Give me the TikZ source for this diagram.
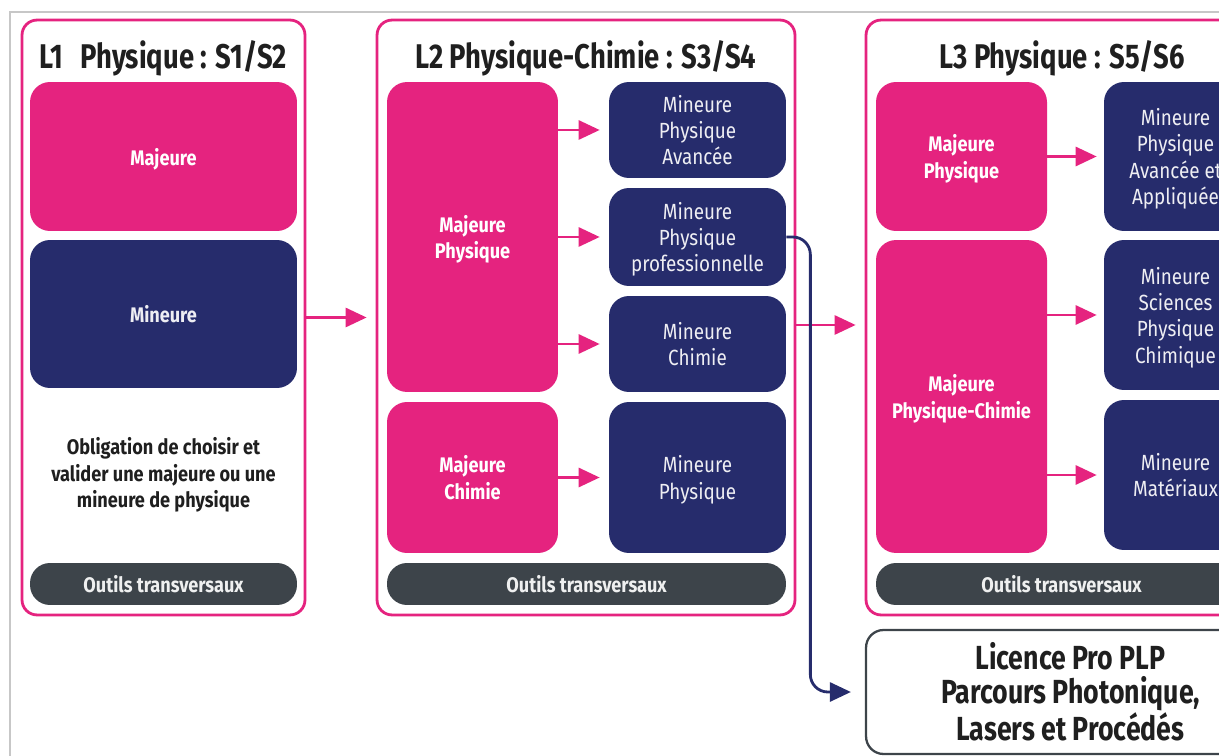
\documentclass[tikz,border=0pt]{standalone}
\usepackage{fontspec}
\setmainfont[FakeStretch=0.86]{Fira Sans}
\newfontfamily\titlefont[FakeStretch=0.8]{Fira Sans}
\usepackage{tikz}
\usetikzlibrary{positioning}
\usetikzlibrary{arrows.meta}
\definecolor{rose}{HTML}{E5237F}
\definecolor{marine}{HTML}{262C6C}
\definecolor{ardoise}{HTML}{3D444A}
\tikzset{
    bloc/.style = {rectangle, rounded corners=0.3cm, draw=rose, line width=1.6pt, fill=white},
    majeure/.style = {rectangle, rounded corners=0.4cm, fill=rose, text=white, align=center, text depth=-1pt, font=\fontsize{12}{15}\selectfont\bfseries},
    mineure/.style = {rectangle, rounded corners=0.4cm, fill=marine, text=white!92!marine, align=center, text depth=-1pt, font=\fontsize{12.5}{15}\selectfont},
    outils/.style = {rectangle, rounded corners=0.4cm, fill=ardoise, text=white!92!ardoise, text depth=0pt, font=\fontsize{12}{15}\selectfont\bfseries},
    titre/.style = {font=\titlefont\fontsize{19.5}{22}\selectfont\bfseries, text=black!88, text depth=0pt},
    taille/.style 2 args = {minimum width=#1cm, minimum height=#2cm, inner sep=0pt},
    edgep/.style = {-{Triangle[length=0.42cm,width=0.38cm]}, line width=1.6pt, rose},
    edgem/.style = {-{Triangle[length=0.42cm,width=0.38cm]}, line width=1.6pt, marine, rounded corners=0.35cm}
}
\begin{document}
\begin{tikzpicture}[x=0.02cm, y=-0.02cm]
\useasboundingbox (0, 0) rectangle (1219, 756);
\clip (0, 0) rectangle (1219, 756);
\draw[black!22, line width=0.6pt] (10, 760) -- (10, 12) -- (1230, 12);
% L1
\node[bloc, taille={5.66}{11.9}] at (163.5, 317.5) (l1) {};
\node[titre] at (163.5, 55) (t1) {L1\enspace Physique : S1/S2};
\node[majeure, taille={5.34}{2.98}] at (163.5, 156.5) (l1maj) {Majeure};
\node[mineure, taille={5.34}{2.96}, font=\fontsize{12}{15}\selectfont\bfseries] at (163.5, 314) (l1min) {Mineure};
\node[align=center, text=black!88, font=\fontsize{12}{15.2}\selectfont\bfseries] at (163.5, 475) (l1obl) {Obligation de choisir et\\valider une majeure ou une\\mineure de physique};
\node[outils, taille={5.34}{0.84}] at (163.5, 584) (l1out) {Outils transversaux};
% L2
\node[bloc, taille={8.36}{11.9}] at (586, 317.5) (l2) {};
\node[titre] at (586, 55) (t2) {L2 Physique-Chimie : S3/S4};
\node[majeure, taille={3.42}{6.2}] at (472.5, 237) (l2mp) {Majeure\\Physique};
\node[majeure, taille={3.42}{3.02}] at (472.5, 477.5) (l2mc) {Majeure\\Chimie};
\node[mineure, taille={3.54}{1.92}] at (697.5, 130) (l2pa) {Mineure\\Physique\\Avancée};
\node[mineure, taille={3.54}{1.96}] at (697.5, 237) (l2pp) {Mineure\\Physique\\professionnelle};
\node[mineure, taille={3.54}{1.92}] at (697.5, 344) (l2ch) {Mineure\\Chimie};
\node[mineure, taille={3.54}{3.02}] at (697.5, 477.5) (l2ph) {Mineure\\Physique};
\node[outils, taille={7.98}{0.84}] at (586.5, 584) (l2out) {Outils transversaux};
% L3
\node[bloc, taille={7.84}{11.9}] at (1062, 317.5) (l3) {};
\node[titre] at (1062, 55) (t3) {L3 Physique : S5/S6};
\node[majeure, taille={3.42}{2.98}] at (961.5, 156.5) (l3mp) {Majeure\\Physique};
\node[majeure, taille={3.42}{6.26}] at (961.5, 396.5) (l3mpc) {Majeure\\Physique-Chimie};
\node[mineure, taille={2.86}{2.98}] at (1175.5, 156.5) (l3paa) {Mineure\\Physique\\Avancée et\\Appliquée};
\node[mineure, taille={2.86}{3.0}] at (1175.5, 315) (l3spc) {Mineure\\Sciences\\Physique\\Chimique};
\node[mineure, taille={2.86}{3.0}] at (1175.5, 475) (l3mat) {Mineure\\Matériaux};
\node[outils, taille={7.42}{0.84}] at (1061.5, 584) (l3out) {Outils transversaux};
% licence pro
\node[rectangle, rounded corners=0.35cm, draw=ardoise, line width=1.3pt, taille={8.18}{2.48}, align=center, text=black!88, font=\titlefont\fontsize{19}{19.4}\selectfont\bfseries] at (1070.5, 692) (lp) {Licence Pro PLP\\Parcours Photonique,\\Lasers et Procédés};
%
\draw[edgep, shorten >=0.18cm] (l1) -- (l2);
\draw[edgep, shorten >=0.18cm] ([yshift=-0.15cm]l2.east) -- ([yshift=-0.15cm]l3.west);
\draw[edgep, shorten >=0.18cm] (l2mp.east |- l2pa.west) -- (l2pa.west);
\draw[edgep, shorten >=0.18cm] (l2mp.east |- l2pp.west) -- (l2pp.west);
\draw[edgep, shorten >=0.18cm] (l2mp.east |- l2ch.west) -- (l2ch.west);
\draw[edgep, shorten >=0.18cm] (l2mc) -- (l2ph);
\draw[edgep, shorten >=0.14cm] (l3mp) -- (l3paa);
\draw[edgep, shorten >=0.14cm] (l3mpc.east |- l3spc.west) -- (l3spc.west);
\draw[edgep, shorten >=0.14cm] (l3mpc.east |- l3mat.west) -- (l3mat.west);
\draw[edgem, shorten >=0.28cm] (l2pp.east) -- ++(24, 0) |- (lp.west);
\end{tikzpicture}
\end{document}
